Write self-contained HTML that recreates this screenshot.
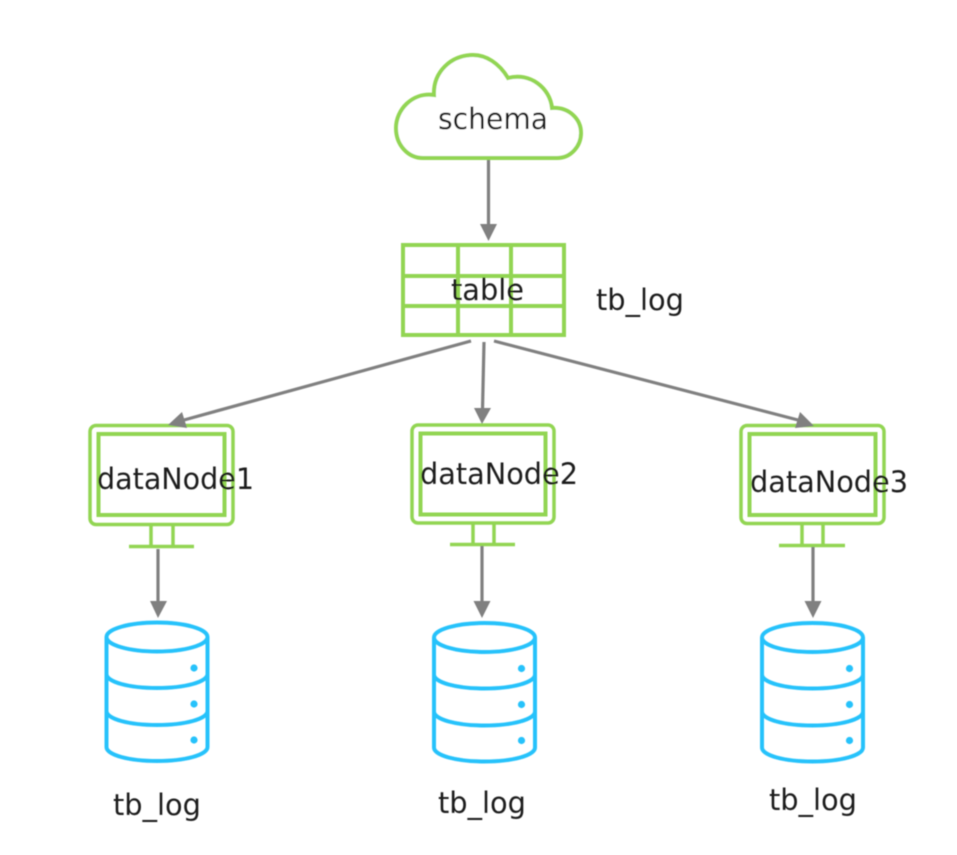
<!DOCTYPE html>
<html><head><meta charset="utf-8"><style>
html,body{margin:0;padding:0;background:#fff}
svg{display:block}
text{font-family:"DejaVu Sans","Liberation Sans",sans-serif;font-size:29px;fill:#1c1c1c}
</style></head><body>
<svg width="957" height="855" viewBox="0 0 957 855" xmlns="http://www.w3.org/2000/svg">
<defs>
<filter id="b" x="-5%" y="-5%" width="110%" height="110%"><feGaussianBlur stdDeviation="0.45"/></filter>
<g id="cyl" fill="none" stroke="#27c2fb" stroke-width="4">
<ellipse cx="51" cy="15" rx="50.500" ry="14.500"/>
<path d="M0.500 15V125C0.500 133 23 139 51 139S101.500 133 101.500 125V15"/>
<path d="M0.500 52C0.500 60 23 66 51 66S101.500 60 101.500 52"/>
<path d="M0.500 89C0.500 97 23 103 51 103S101.500 97 101.500 89"/>
<circle cx="88" cy="46" r="3.600" fill="#27c2fb" stroke="none"/>
<circle cx="88" cy="82" r="3.600" fill="#27c2fb" stroke="none"/>
<circle cx="88" cy="118" r="3.600" fill="#27c2fb" stroke="none"/>
</g>
</defs>
<g filter="url(#b)">
<!-- cloud -->
<path d="M423 158H557C571 158 581 146 581 133C581 119 569 107 552 108C550 88 530 72 508 78C499 63 486 55 473 55C451 55 433 72 434 95C412 92 396 110 396 128C396 145 408 158 423 158Z" fill="#fff" stroke="#92d552" stroke-width="4"/>
<!-- table -->
<g fill="none" stroke="#92d552" stroke-width="4">
<rect x="403" y="245" width="161" height="90"/>
<path d="M458 245V335M511 245V335M403 276H564M403 306H564"/>
</g>
<!-- monitors -->
<g fill="none" stroke="#92d552" stroke-width="3.500">
<rect x="90" y="425.500" width="143" height="99" rx="6"/>
<rect x="98.500" y="434" width="126" height="81" stroke-width="4"/>
<path d="M151 525V546M173 525V546M129 546.500H194"/>
<rect x="412" y="425" width="142" height="98" rx="6"/>
<rect x="420.500" y="433.500" width="125" height="81" stroke-width="4"/>
<path d="M473 523V544M494 523V544M450 544.500H515"/>
<rect x="741" y="425.500" width="143" height="98" rx="6"/>
<rect x="749.500" y="434" width="126" height="81" stroke-width="4"/>
<path d="M802 524V545M823 524V545M779 545.500H845"/>
</g>
<!-- arrows -->
<g stroke="#808080" stroke-width="3.200" fill="none">
<path d="M488.500 160V226"/>
<path d="M471 341L184 420"/>
<path d="M484 342L482.500 410"/>
<path d="M494 341L798 420"/>
<path d="M158 549V604"/>
<path d="M482 546V604"/>
<path d="M813 547V604"/>
</g>
<g fill="#808080">
<path d="M480 224H497L488.500 241Z"/>
<path d="M168 425L182 412L187 428Z"/>
<path d="M474 408H491L482 424Z"/>
<path d="M814 426L795 428L800 412Z"/>
<path d="M150 601H167L158 618Z"/>
<path d="M473.500 601H490.500L482 618Z"/>
<path d="M804.500 601H821.500L813 618Z"/>
</g>
<!-- cylinders -->
<use href="#cyl" x="106" y="622"/>
<use href="#cyl" x="433.500" y="622.500"/>
<use href="#cyl" x="761.500" y="622.500"/>
<!-- labels -->
<text x="438" y="129" textLength="110" lengthAdjust="spacingAndGlyphs">schema</text>
<text x="451" y="300" textLength="73" lengthAdjust="spacingAndGlyphs">table</text>
<text x="596" y="310" textLength="88" lengthAdjust="spacingAndGlyphs">tb_log</text>
<text x="97" y="489" textLength="157" lengthAdjust="spacingAndGlyphs">dataNode1</text>
<text x="420" y="484" textLength="158" lengthAdjust="spacingAndGlyphs">dataNode2</text>
<text x="750" y="492" textLength="158" lengthAdjust="spacingAndGlyphs">dataNode3</text>
<text x="113" y="815" textLength="88" lengthAdjust="spacingAndGlyphs">tb_log</text>
<text x="438" y="813" textLength="88" lengthAdjust="spacingAndGlyphs">tb_log</text>
<text x="769" y="810" textLength="88" lengthAdjust="spacingAndGlyphs">tb_log</text>
</g>
</svg>
</body></html>
